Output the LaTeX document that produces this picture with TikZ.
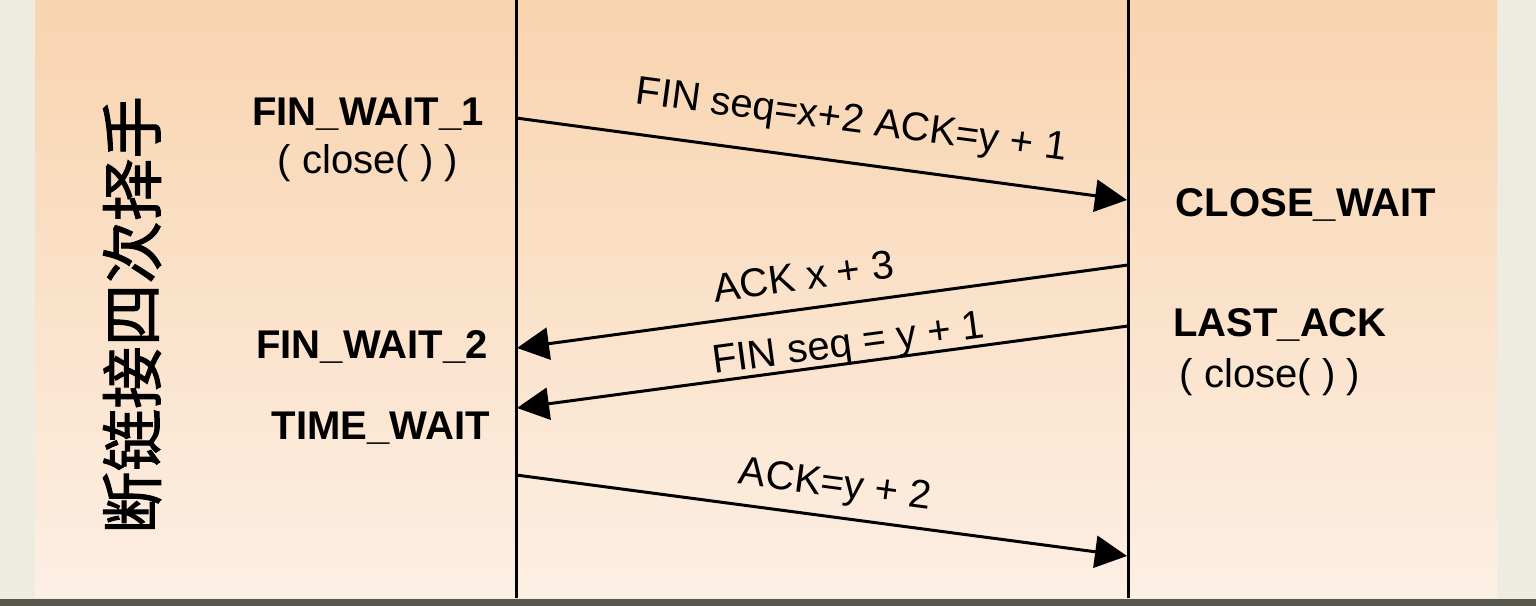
\documentclass[tikz,border=0pt]{standalone}
\usepackage{fontspec}
\setmainfont{Liberation Sans}
\newfontfamily\cjk{Noto Sans CJK SC}[AutoFakeBold=1.5]
\usetikzlibrary{arrows.meta}
\definecolor{paper}{HTML}{EEEBE1}
\definecolor{paneltop}{HTML}{F8D4AF}
\definecolor{panelbot}{HTML}{FDEFE4}
\definecolor{floorgray}{HTML}{58574F}
\tikzset{
  life/.style={line width=0.3mm},
  msg/.style={line width=0.3mm, -{Triangle[length=3.2mm,width=3.2mm]}},
  lbl/.style={sloped, inner sep=0pt, text height=2.8mm, text depth=0.6mm,
    font=\fontsize{11.4pt}{13pt}\selectfont},
  state/.style={inner sep=0pt, font=\fontsize{11.4pt}{13pt}\selectfont\bfseries},
  call/.style={inner sep=0pt, font=\fontsize{11.4pt}{13pt}\selectfont}
}
\begin{document}
\begin{tikzpicture}[x=0.1mm,y=-0.1mm]
\useasboundingbox (0,0) rectangle (1536,606);
% background
\fill[paper] (0,0) rectangle (1536,606);
\shade[top color=paneltop, bottom color=panelbot] (35,0) rectangle (1497,598);
\fill[floorgray] (0,599) rectangle (1536,606);
% lifelines
\coordinate (atop) at (516,0);
\coordinate (abot) at (516,598);
\coordinate (btop) at (1128,0);
\coordinate (bbot) at (1128,598);
\draw[life] (atop) -- (abot);
\draw[life] (btop) -- (bbot);
% title
\node[rotate=90, font=\cjk\bfseries\fontsize{17.8pt}{18pt}\selectfont] (title) at (132,315) {断链接四次择手};
% states
\node[state] (fw1) at (368,114) {FIN\_WAIT\_1};
\node[call] (cl1) at (368,163) {( close( ) )};
\node[state] (fw2) at (372,347) {FIN\_WAIT\_2};
\node[state] (tw) at (381,428) {TIME\_WAIT};
\node[state] (cw) at (1306,205) {CLOSE\_WAIT};
\node[state] (la) at (1280,325) {LAST\_ACK};
\node[call] (cl2) at (1270,377) {( close( ) )};
% messages
\coordinate (a1) at (516,118);
\coordinate (b1) at (1127,200);
\coordinate (b2) at (1128,265);
\coordinate (a2) at (517,348);
\coordinate (b3) at (1128,326);
\coordinate (a3) at (517,408);
\coordinate (a4) at (516,475);
\coordinate (b4) at (1127,556);
\draw[msg] (a1) -- node[lbl, pos=0.54, above=2.3mm] (m1) {FIN seq=x+2 ACK=y + 1} (b1);
\draw[msg] (b2) -- node[lbl, pos=0.524, above=1.1mm] (m2) {ACK x + 3} (a2);
\draw[msg] (b3) -- node[lbl, pos=0.453, above=0mm] (m3) {FIN seq = y + 1} (a3);
\draw[msg] (a4) -- node[lbl, pos=0.516, above=1.3mm] (m4) {ACK=y + 2} (b4);
\end{tikzpicture}
\end{document}
